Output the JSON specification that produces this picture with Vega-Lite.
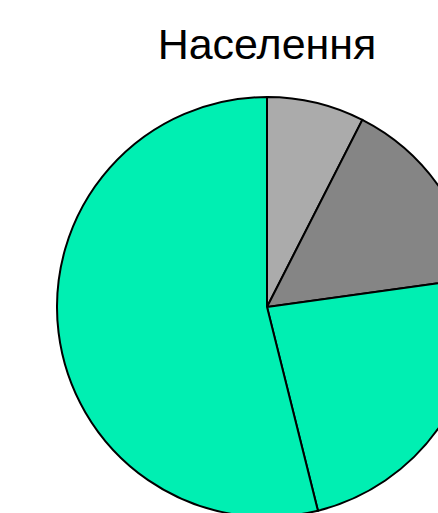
{
  "$schema": "https://vega.github.io/schema/vega-lite/v6.json",
  "width": 420,
  "height": 420,
  "autosize": {"type": "none"},
  "padding": {"left": 57, "top": 97, "right": 0, "bottom": 0},
  "background": "white",
  "title": {
    "text": "Населення",
    "font": "Liberation Sans",
    "fontSize": 43,
    "fontWeight": "normal",
    "color": "black",
    "anchor": "middle",
    "baseline": "alphabetic",
    "offset": -9
  },
  "data": {
    "values": [
      {"segment": "Сегмент 1", "order": 1, "value": 7.5},
      {"segment": "Сегмент 2", "order": 2, "value": 15.3},
      {"segment": "Сегмент 3", "order": 3, "value": 23.3},
      {"segment": "Сегмент 4", "order": 4, "value": 53.9}
    ]
  },
  "mark": {"type": "arc", "stroke": "black", "strokeWidth": 2, "radius": 210},
  "encoding": {
    "theta": {"field": "value", "type": "quantitative", "stack": true},
    "order": {"field": "order", "type": "quantitative"},
    "color": {
      "field": "segment",
      "type": "nominal",
      "scale": {
        "domain": ["Сегмент 1", "Сегмент 2", "Сегмент 3", "Сегмент 4"],
        "range": ["#ABABAB", "#858585", "#00EFB2", "#00EFB2"]
      },
      "legend": null
    }
  },
  "config": {"view": {"stroke": null}}
}
